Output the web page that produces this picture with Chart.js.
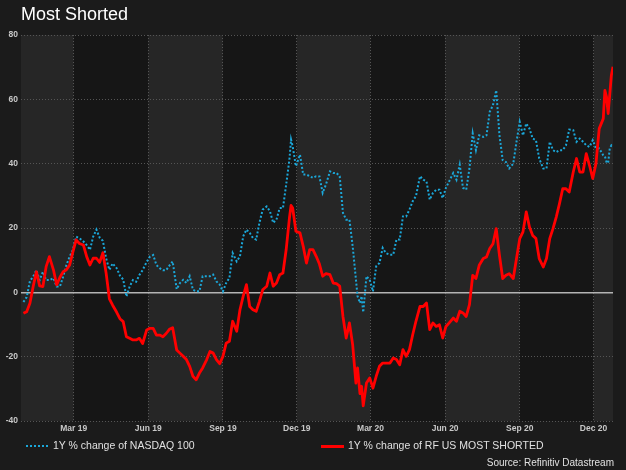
<!DOCTYPE html>
<html>
<head>
<meta charset="utf-8">
<script src="https://cdn.jsdelivr.net/npm/chart.js@4.4.0/dist/chart.umd.min.js"></script>
<style>
    body { margin: 0; background: #1b1b1b; }
    #wrap { position: relative; width: 626px; height: 470px; overflow: hidden; font-family: "Liberation Sans", Arial, sans-serif; }
    #chart { position: absolute; left: 0; top: 0; }
    .title { position: absolute; left: 21px; top: 4px; font-size: 18px; color: #ffffff; }
    .legend { position: absolute; top: 439px; font-size: 10.5px; color: #e0e0e0; white-space: nowrap; }
    .swatch { display: inline-block; width: 22px; height: 0; vertical-align: middle; margin-right: 5px; }
    .source { position: absolute; right: 12px; top: 457px; font-size: 10px; color: #e0e0e0; }
</style>
</head>
<body>
<div id="wrap">
    <canvas id="chart" width="626" height="470"></canvas>
    <div class="title">Most Shorted</div>
    <div class="legend" style="left:26px"><span class="swatch" style="border-top:2px dotted #1ba7d9"></span>1Y % change of NASDAQ 100</div>
    <div class="legend" style="left:321px"><span class="swatch" style="width:23px;margin-right:4px;border-top:3px solid #ff0000"></span>1Y % change of RF US MOST SHORTED</div>
    <div class="source">Source: Refinitiv Datastream</div>
</div>
<script>
// days since 1 Jan 2019
const days = [
    -3, 1, 5, 9, 13, 17, 21, 25, 29, 34, 38, 42, 46, 50, 54, 58, 62, 66, 71, 75, 79, 83, 87, 91, 95,
    99, 103, 107, 112, 116, 120, 124, 128, 132, 136, 140, 144, 149, 153, 157, 161, 165, 169, 173, 177, 181, 186,
    190, 194, 198, 202, 206, 210, 214, 218, 223, 227, 231, 235, 239, 243, 247, 251, 255, 260, 264, 268,
    272, 276, 280, 284, 288, 292, 297, 301, 305, 309, 313, 317, 321, 325, 327, 329, 333, 338, 342, 346, 350, 354, 358, 362,
    366, 370, 375, 379, 383, 387, 391, 395, 399, 403, 407, 409, 412, 414, 416,
    420, 424, 428, 432, 436, 440, 444, 449, 453, 457, 461, 465, 469, 473, 477, 481, 486, 490, 494, 498,
    502, 506, 510, 514, 518, 522, 527, 531, 535, 539, 543, 547,
    551, 555, 559, 564, 568, 572, 576, 580, 584, 588, 592, 596, 601, 605, 609, 613, 617, 621, 625, 629,
    633, 638, 642, 646, 650, 654, 658, 662, 666, 670, 675, 679, 683, 687, 691, 695, 699, 703, 707, 712,
    714, 716, 718, 720, 722, 724
]

const nasdaq = [
    -3, -1.5, 3.5, 4.9, 6.9, 3.8, 6.4, 3.8, 3.8, 4.4, 1.8, 1.8, 4.9, 8.5, 11.1, 13.2, 17.3, 16.8, 15.8, 14.7, 13.2, 17.3, 19.5, 17, 16,
    10.5, 7, 9, 7.5, 5.2, 4, -1.3, 1.8, 3.8, 3.3, 5.4, 6.9, 9.5, 11.1, 11.6, 8.5, 7.5, 6.9, 6.9, 8.3, 9.6, 1,
    2.9, 3.9, 2.9, 5, 0.8, 0.3, 0.3, 5, 5, 5, 5.5, 3.4, 2.4, 0.3, 2.9, 4.5, 12.2, 9.6, 11.2, 17.4,
    19.5, 18.5, 16.9, 16.4, 21.6, 25.7, 26.7, 25.2, 21.6, 22.6, 26.2, 26.2, 33.5, 41.3, 47.5, 45.4, 39.2, 42.8, 36.6, 36.6, 36.1, 35.6, 36.1, 36,
    30.9, 33.5, 37.6, 37.1, 37.1, 36.1, 24.7, 22.6, 22.6, 14.3, 4, -1.2, -3.3, -1.2, -6.2,
    5, 3.9, 0.3, 8.1, 9.1, 13.8, 12.2, 11.7, 11.7, 16.4, 16.4, 23.6, 23.6, 25.7, 28.3, 29.9, 36.1, 35, 34.5, 28.8,
    30.9, 31.9, 31.9, 29.3, 32.5, 34.5, 37.1, 35, 39.7, 32.5, 31.9, 38.5,
    49.4, 44.2, 48.8, 48.3, 48.8, 56.1, 58.2, 62.8, 48.8, 41.1, 40.5, 38.5, 40, 46.8, 53, 48.8, 52.5, 50.9, 47.8, 47.3,
    41.6, 38.5, 38.5, 46.8, 44.2, 43.6, 44.2, 44.2, 45.7, 50.6, 50.4, 46.8, 47.8, 46.8, 45.7, 45.2, 47.3, 44.7, 44.7, 42.6,
    42.3, 40.5, 40.2, 44.7, 45.7, 45.2
]

const mostShorted = [
    -6.5, -6, -3.4, 1.8, 6.4, 2, 1.8, 8, 11.1, 7, 2.3, 4.7, 6.4, 7, 8.5, 12.6, 16.3, 15.2, 14.7, 11.1, 8.5, 10.6, 10.6, 9.3, 12.3,
    5.9, -2, -4, -6.2, -8.2, -9.1, -13.8, -14.3, -14.8, -14.8, -14.3, -15.9, -11.7, -11.2, -11.2, -13.3, -13.3, -13.8, -12.8, -11.5, -11, -17.9,
    -18.9, -19.9, -20.9, -23, -26.1, -27.2, -25.1, -23.5, -20.9, -18.4, -18.9, -20.9, -22.2, -19.9, -15.8, -15.2, -9, -12.1, -5.4, -1.2,
    2.4, -4.4, -5.4, -5.9, -2.8, 0.8, 1.9, 6, 1.9, 2.9, 5.5, 6, 13.3, 23.1, 27, 26.2, 19, 18.5, 14.3, 9.1, 13.3, 13.3, 11.2, 8.8,
    5, 5.8, 5.5, 2.9, 2.7, 1.9, -7.5, -14.2, -9.5, -16.3, -28.2, -23.5, -31.5, -29.2, -35.3,
    -28.2, -26.6, -29.8, -26.1, -23, -22, -22, -22, -20.4, -20.9, -22.5, -17.8, -19.9, -17.8, -13.2, -9, -4.4, -4.4, -3.3, -11.6,
    -9.5, -10.6, -10.1, -14.2, -10.6, -9.5, -8, -9, -5.9, -6.4, -7.5, -3.8,
    5.3, 4.3, 8.4, 10.5, 11, 13.6, 15.1, 19.8, 11.5, 4.3, 5.3, 5.8, 4.3, 10.5, 16.7, 18.8, 25, 20.3, 17.7, 16.7,
    10.5, 7.9, 10.5, 16.7, 19.8, 23.4, 27.6, 32.2, 32.2, 31.2, 37.4, 41.6, 37.4, 37.4, 43.1, 39.5, 35.4, 40, 50.9, 54,
    62.8, 60.8, 55.6, 61.5, 67.5, 70.1
]

// quarter ticks (1 Mar 19 ... 1 Dec 20)
const tickDays = [59, 151, 243, 334, 425, 517, 609, 700]
const tickLabels = ['Mar 19', 'Jun 19', 'Sep 19', 'Dec 19', 'Mar 20', 'Jun 20', 'Sep 20', 'Dec 20']

const fontFamily = '"Liberation Sans", Arial, sans-serif'
const tickFont = { family: fontFamily, size: 8.5, weight: 'bold' }

// Page background and alternating quarter bands
const bandsPlugin = {
    id: 'bands',
    beforeDraw(chart) {
        const { ctx, chartArea: area, scales: { x } } = chart
        ctx.save()
        ctx.fillStyle = '#1b1b1b'
        ctx.fillRect(0, 0, chart.width, chart.height)
        const edges = [x.min, ...tickDays, x.max]
        for (let i = 0; i < edges.length - 1; i++) {
            const left = x.getPixelForValue(edges[i])
            const right = x.getPixelForValue(edges[i + 1])
            ctx.fillStyle = i % 2 === 0 ? '#262626' : '#161616'
            ctx.fillRect(left, area.top, right - left, area.bottom - area.top)
        }
        ctx.restore()
    }
}

new Chart(document.getElementById('chart'), {
    type: 'line',
    data: {
        datasets: [
            {
                label: '1Y % change of NASDAQ 100',
                data: days.map((d, i) => ({ x: d, y: nasdaq[i] })),
                borderColor: '#1ba7d9',
                borderWidth: 2,
                borderDash: [2, 2],
                pointRadius: 0,
                tension: 0,
                order: 1
            },
            {
                label: '1Y % change of RF US MOST SHORTED',
                data: days.map((d, i) => ({ x: d, y: mostShorted[i] })),
                borderColor: '#ff0000',
                borderWidth: 2.8,
                pointRadius: 0,
                tension: 0,
                borderJoinStyle: 'round',
                order: 0
            }
        ]
    },
    options: {
        responsive: false,
        animation: false,
        layout: { padding: { top: 35, right: 13, bottom: 0, left: 0 } },
        plugins: {
            legend: { display: false },
            tooltip: { enabled: false },
            title: { display: false }
        },
        scales: {
            x: {
                type: 'linear',
                min: -6,
                max: 724,
                afterBuildTicks: scale => { scale.ticks = tickDays.map(v => ({ value: v })) },
                afterFit: scale => { scale.height = 49 },
                ticks: {
                    callback: (value, index) => tickLabels[index],
                    color: '#c8c8c8',
                    font: tickFont,
                    padding: 3,
                    maxRotation: 0,
                    autoSkip: false
                },
                grid: { color: '#555555', drawTicks: false },
                border: { display: false, dash: [1, 2] }
            },
            y: {
                min: -40,
                max: 80,
                afterFit: scale => { scale.width = 21 },
                ticks: { stepSize: 20, color: '#c8c8c8', font: tickFont, padding: 3 },
                grid: {
                    color: ctx => ctx.tick && ctx.tick.value === 0 ? '#b4b4b4' : '#555555',
                    lineWidth: ctx => ctx.tick && ctx.tick.value === 0 ? 1.5 : 1,
                    drawTicks: false
                },
                border: {
                    display: false,
                    dash: ctx => ctx.tick && ctx.tick.value === 0 ? [] : [1, 2]
                }
            }
        }
    },
    plugins: [bandsPlugin]
})
</script>
</body>
</html>
